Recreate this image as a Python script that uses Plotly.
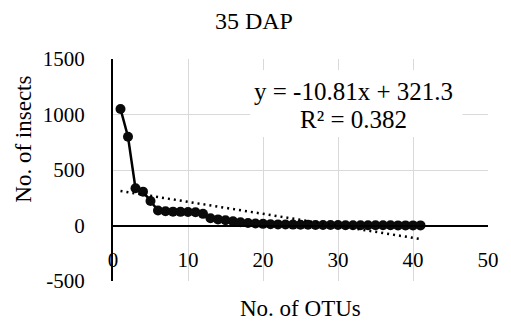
import plotly.graph_objects as go

# ---- data ----
otu_rank = list(range(1, 42))
insects = [1050, 800, 335, 305, 220, 135, 128, 125, 123, 122,
           120, 105, 65, 55, 48, 38, 30, 22, 18, 15,
           12, 10, 9, 8, 7, 6, 5, 5, 4, 4,
           3, 3, 3, 2, 2, 2, 2, 1, 1, 1, 1]
trend_slope = -10.81
trend_intercept = 321.3
r_squared = 0.382
title_text = "35 DAP"
x_title = "No. of OTUs"
y_title = "No. of insects"
x_ticks = [0, 10, 20, 30, 40, 50]
y_ticks = [-500, 0, 500, 1000, 1500]

FONT = "Liberation Serif, Times New Roman, serif"

trend_x = [otu_rank[0], otu_rank[-1]]
trend_y = [trend_slope * v + trend_intercept for v in trend_x]

fig = go.Figure()
fig.add_trace(go.Scatter(
    x=otu_rank, y=insects, mode="lines+markers",
    line=dict(color="#000000", width=2.5),
    marker=dict(color="#0a0a0a", size=10),
    showlegend=False, hoverinfo="skip"))
fig.add_trace(go.Scatter(
    x=trend_x, y=trend_y, mode="lines",
    line=dict(color="#000000", width=2.5, dash="2px,4px"),
    showlegend=False, hoverinfo="skip"))

# white box behind the equation label
fig.add_shape(type="rect", xref="x", yref="y",
              x0=18.3, x1=46.6, y0=797, y1=1401,
              fillcolor="white", line=dict(width=0), layer="above")

fig.add_annotation(x=32.1, y=1210, xref="x", yref="y",
                   text=f"y = {trend_slope}x + {trend_intercept}",
                   showarrow=False, xanchor="center", yanchor="middle",
                   font=dict(family=FONT, size=25, color="black"))
fig.add_annotation(x=32.0, y=955, xref="x", yref="y",
                   text=f"R² = {r_squared}",
                   showarrow=False, xanchor="center", yanchor="middle",
                   font=dict(family=FONT, size=25, color="black"))

# axis titles
fig.add_annotation(x=-0.238, y=0.64, xref="paper", yref="paper",
                   text=y_title, textangle=-90, showarrow=False,
                   xanchor="center", yanchor="middle",
                   font=dict(family=FONT, size=23, color="black"))
fig.add_annotation(x=0.5, y=-0.122, xref="paper", yref="paper",
                   text=x_title, showarrow=False,
                   xanchor="center", yanchor="middle",
                   font=dict(family=FONT, size=23, color="black"))

fig.update_layout(
    width=511, height=324,
    margin=dict(l=113, r=15, t=59, b=43),
    paper_bgcolor="white", plot_bgcolor="white",
    font=dict(family=FONT, color="black"),
    title=dict(text=title_text, x=0.497, xref="container", xanchor="center",
               y=1 - 21 / 324, yref="container", yanchor="middle",
               font=dict(family=FONT, size=24, color="black")),
    xaxis=dict(range=[0, 50], tickvals=x_ticks,
               ticktext=[str(v) for v in x_ticks], showgrid=True,
               gridcolor="#d9d9d9", gridwidth=1, zeroline=False,
               showline=True, linecolor="black", linewidth=2,
               anchor="free", position=0.25, ticks="",
               ticklabelstandoff=15,
               tickfont=dict(family=FONT, size=21, color="black")),
    yaxis=dict(range=[-500, 1500], tickvals=y_ticks,
               ticktext=[str(v) for v in y_ticks], showgrid=True,
               gridcolor="#d9d9d9", gridwidth=1, zeroline=False,
               showline=True, linecolor="black", linewidth=2, ticks="",
               ticklabelstandoff=22,
               tickfont=dict(family=FONT, size=21, color="black")),
)

fig.write_html("out.html")
